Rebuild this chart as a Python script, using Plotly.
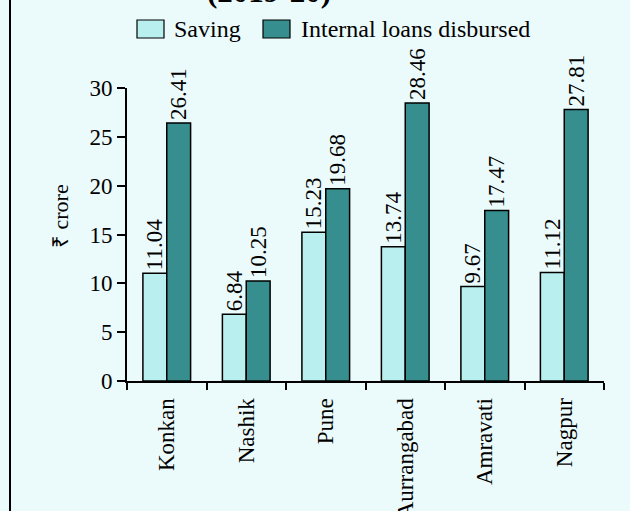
import plotly.graph_objects as go

# === data ===
regions = ["Konkan", "Nashik", "Pune", "Aurrangabad", "Amravati", "Nagpur"]
saving = [11.04, 6.84, 15.23, 13.74, 9.67, 11.12]
loans = [26.41, 10.25, 19.68, 28.46, 17.47, 27.81]
y_ticks = [0, 5, 10, 15, 20, 25, 30]
series_names = ["Saving", "Internal loans disbursed"]
series_colors = ["#B9EFEF", "#368F8E"]

BG = "#EBFAFA"
SERIF = "Liberation Serif, Times New Roman, serif"

# plot area in pixels (used to place the hand-drawn legend / frame)
L, R, T, B = 127, 26, 88, 130
PW, PH = 630 - L - R, 511 - T - B


def px_x(x):
    return (x - L) / PW


def px_y(y):
    return (511 - B - y) / PH


fig = go.Figure()
for name, vals, col in zip(series_names, [saving, loans], series_colors):
    fig.add_trace(go.Bar(
        x=regions, y=vals, name=name,
        marker=dict(color=col, line=dict(color="black", width=1.5)),
        text=[f"{v:.2f}" for v in vals], textposition="outside", textangle=-90,
        textfont=dict(family=SERIF, size=23, color="black"), cliponaxis=False,
    ))

# legend drawn by hand so the swatches are the size of the original
shapes = [dict(type="line", xref="paper", yref="paper",
               x0=px_x(10), x1=px_x(10), y0=-0.6, y1=1.5,
               line=dict(color="black", width=2))]
annotations = [
    dict(text="<b>(2019-20)</b>", xref="paper", yref="paper",
         x=px_x(269), y=px_y(11), xanchor="center", yanchor="bottom",
         showarrow=False, font=dict(family=SERIF, size=31)),
    dict(text="₹ crore", xref="paper", yref="paper", textangle=-90,
         x=px_x(60), y=px_y(216), xanchor="center", yanchor="middle",
         showarrow=False, font=dict(family=SERIF, size=22)),
]
for (bx0, tx), name, col in zip([(137, 172), (263, 299)], series_names, series_colors):
    shapes.append(dict(type="rect", xref="paper", yref="paper",
                       x0=px_x(bx0), x1=px_x(bx0 + 27), y0=px_y(38), y1=px_y(20),
                       fillcolor=col, line=dict(color="black", width=1.2)))
    annotations.append(dict(text=name, xref="paper", yref="paper",
                            x=px_x(tx), y=px_y(29), xanchor="left", yanchor="middle",
                            showarrow=False, font=dict(family=SERIF, size=24)))

fig.update_layout(
    width=630, height=511,
    margin=dict(l=L, r=R, t=T, b=B, autoexpand=False),
    paper_bgcolor=BG, plot_bgcolor=BG,
    barmode="group", bargap=0.4, bargroupgap=0,
    font=dict(family=SERIF, size=23, color="black"),
    showlegend=False,
    uniformtext=dict(minsize=23, mode="show"),
    xaxis=dict(showline=True, linecolor="black", linewidth=2, ticks="outside",
               tickson="boundaries", ticklen=7, tickwidth=2, tickcolor="black",
               tickangle=-90, showgrid=False, ticklabelstandoff=6,
               tickfont=dict(family=SERIF, size=23)),
    yaxis=dict(range=[0, 30], tickvals=y_ticks, showline=True, linecolor="black",
               linewidth=2, ticks="outside", ticklen=8, tickwidth=2, tickcolor="black",
               showgrid=False, zeroline=False,
               tickfont=dict(family=SERIF, size=23)),
    annotations=annotations,
    shapes=shapes,
)

# page has a default 8px body margin; drop it so the figure sits at 0,0
fig.write_html("out.html", config={"displayModeBar": False},
               post_script="document.body.style.margin='0';")
